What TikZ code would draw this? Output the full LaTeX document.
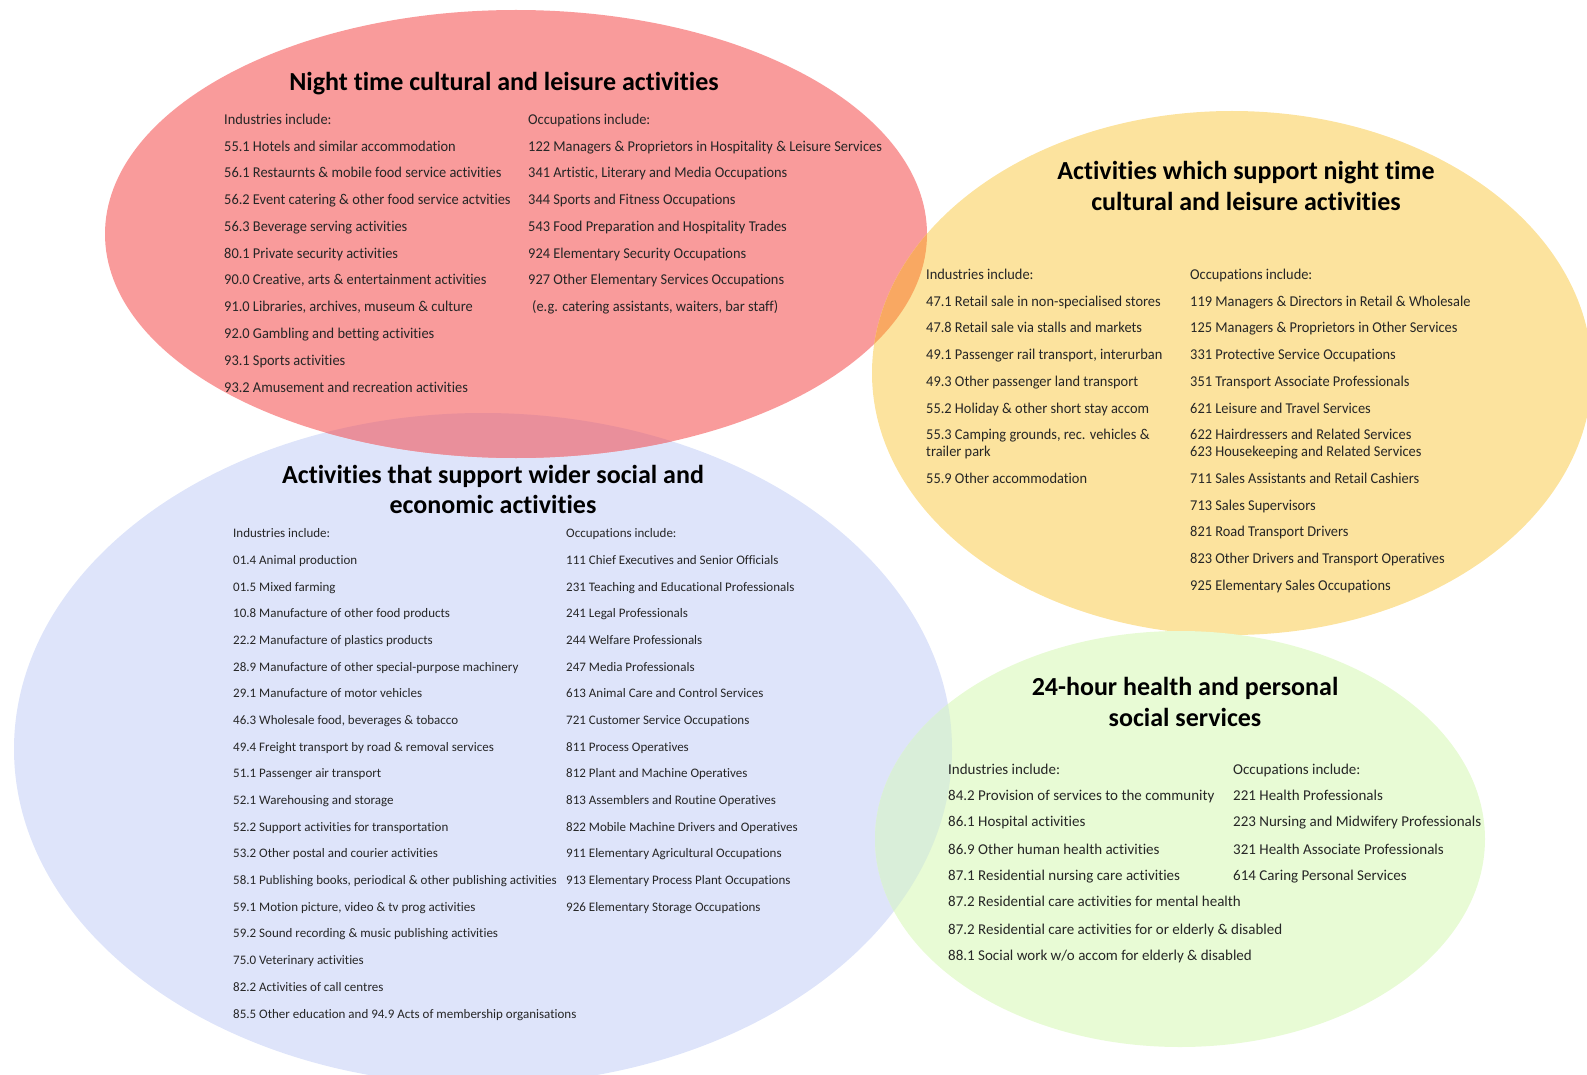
\documentclass[tikz,border=0pt]{standalone}
\usepackage{fontspec}
\setmainfont[Ligatures=CommonOff]{Carlito}
\newfontfamily\narrowfont[FakeStretch=0.96, Ligatures=CommonOff]{Carlito}
\newfontfamily\greenfont[Ligatures=CommonOff]{Carlito}
\usepackage{tikz}
\definecolor{nightred}{HTML}{F99B9B}
\definecolor{supportyellow}{HTML}{FCE39E}
\definecolor{widerblue}{HTML}{DEE4FA}
\definecolor{healthgreen}{HTML}{E8FBD5}
\definecolor{redyellow}{HTML}{F9A862}
\definecolor{redblue}{HTML}{E98F9B}
\definecolor{bluegreen}{HTML}{D9EED9}

\begin{document}
\begin{tikzpicture}[x=1pt, y=-1pt,
    ttl/.style={font=\fontsize{26}{31}\selectfont\bfseries, anchor=base, inner sep=0pt},
    txt/.style={font=\fontsize{15}{15}\narrowfont, anchor=base west, inner sep=0pt, text=black!85},
    gtxt/.style={font=\fontsize{15}{15}\greenfont, anchor=base west, inner sep=0pt, text=black!85},
    sml/.style={font=\fontsize{13}{13}\selectfont, anchor=base west, inner sep=0pt, text=black!85}]
    \useasboundingbox (0,0) rectangle (1587,1075);

    \coordinate (red) at (516,234);
    \coordinate (yellow) at (1232,373);
    \coordinate (blue) at (483,749);
    \coordinate (green) at (1180,839);

    % the four sets
    \fill[widerblue] (blue) ellipse [x radius=469pt, y radius=336pt];
    \fill[nightred] (red) ellipse [x radius=411pt, y radius=224pt];
    \fill[supportyellow] (yellow) ellipse [x radius=360pt, y radius=262pt];
    \fill[healthgreen] (green) ellipse [x radius=305pt, y radius=208pt];

    % overlaps
    \begin{scope}
      \clip (red) ellipse [x radius=411pt, y radius=224pt];
      \fill[redyellow] (yellow) ellipse [x radius=360pt, y radius=262pt];
      \fill[redblue] (blue) ellipse [x radius=469pt, y radius=336pt];
    \end{scope}
    \begin{scope}
      \clip (green) ellipse [x radius=305pt, y radius=208pt];
      \fill[bluegreen] (blue) ellipse [x radius=469pt, y radius=336pt];
    \end{scope}

    % night time
    \node[ttl] (r-title) at (504,90.5) {Night time cultural and leisure activities};
    \node[txt] (r-ind) at (224,124.4) {Industries include:};
    \node[txt] (r-i1) at (224,151.2) {55.1 Hotels and similar accommodation};
    \node[txt] (r-i2) at (224,177.9) {56.1 Restaurnts \& mobile food service activities};
    \node[txt] (r-i3) at (224,204.7) {56.2 Event catering \& other food service actvities};
    \node[txt] (r-i4) at (224,231.4) {56.3 Beverage serving activities};
    \node[txt] (r-i5) at (224,258.2) {80.1 Private security activities};
    \node[txt] (r-i6) at (224,285.0) {90.0 Creative, arts \& entertainment activities};
    \node[txt] (r-i7) at (224,311.7) {91.0 Libraries, archives, museum \& culture};
    \node[txt] (r-i8) at (224,338.5) {92.0 Gambling and betting activities};
    \node[txt] (r-i9) at (224,365.2) {93.1 Sports activities};
    \node[txt] (r-i10) at (224,392.0) {93.2 Amusement and recreation activities};
    \node[txt] (r-occ) at (528,124.4) {Occupations include:};
    \node[txt] (r-o1) at (528,151.2) {122 Managers \& Proprietors in Hospitality \& Leisure Services};
    \node[txt] (r-o2) at (528,177.9) {341 Artistic, Literary and Media Occupations};
    \node[txt] (r-o3) at (528,204.7) {344 Sports and Fitness Occupations};
    \node[txt] (r-o4) at (528,231.4) {543 Food Preparation and Hospitality Trades};
    \node[txt] (r-o5) at (528,258.2) {924 Elementary Security Occupations};
    \node[txt] (r-o6) at (528,285.0) {927 Other Elementary Services Occupations};
    \node[txt] (r-o7) at (532,311.7) {(e.g. catering assistants, waiters, bar staff)};

    % support night time
    \node[ttl] (y-title1) at (1246,179.5) {Activities which support night time};
    \node[ttl] (y-title2) at (1246,211) {cultural and leisure activities};
    \node[txt] (y-ind) at (926,279.3) {Industries include:};
    \node[txt] (y-i1) at (926,306.1) {47.1 Retail sale in non-specialised stores};
    \node[txt] (y-i2) at (926,332.8) {47.8 Retail sale via stalls and markets};
    \node[txt] (y-i3) at (926,359.6) {49.1 Passenger rail transport, interurban};
    \node[txt] (y-i4) at (926,386.3) {49.3 Other passenger land transport};
    \node[txt] (y-i5) at (926,413.1) {55.2 Holiday \& other short stay accom};
    \node[txt] (y-i6) at (926,439.9) {55.3 Camping grounds, rec. vehicles \&};
    \node[txt] (y-i6b) at (926,456.4) {trailer park};
    \node[txt] (y-i7) at (926,483.7) {55.9 Other accommodation};
    \node[txt] (y-occ) at (1190,279.3) {Occupations include:};
    \node[txt] (y-o1) at (1190,306.1) {119 Managers \& Directors in Retail \& Wholesale};
    \node[txt] (y-o2) at (1190,332.8) {125 Managers \& Proprietors in Other Services};
    \node[txt] (y-o3) at (1190,359.6) {331 Protective Service Occupations};
    \node[txt] (y-o4) at (1190,386.3) {351 Transport Associate Professionals};
    \node[txt] (y-o5) at (1190,413.1) {621 Leisure and Travel Services};
    \node[txt] (y-o6) at (1190,439.9) {622 Hairdressers and Related Services};
    \node[txt] (y-o7) at (1190,456.4) {623 Housekeeping and Related Services};
    \node[txt] (y-o8) at (1190,483.7) {711 Sales Assistants and Retail Cashiers};
    \node[txt] (y-o9) at (1190,510) {713 Sales Supervisors};
    \node[txt] (y-o10) at (1190,536.4) {821 Road Transport Drivers};
    \node[txt] (y-o11) at (1190,563.7) {823 Other Drivers and Transport Operatives};
    \node[txt] (y-o12) at (1190,590) {925 Elementary Sales Occupations};

    % wider social and economic
    \node[ttl] (b-title1) at (493,483) {Activities that support wider social and};
    \node[ttl] (b-title2) at (493,513.5) {economic activities};
    \node[sml] (b-ind) at (233,537.7) {Industries include:};
    \node[sml] (b-i1) at (233,564.4) {01.4 Animal production};
    \node[sml] (b-i2) at (233,591.1) {01.5 Mixed farming};
    \node[sml] (b-i3) at (233,617.7) {10.8 Manufacture of other food products};
    \node[sml] (b-i4) at (233,644.4) {22.2 Manufacture of plastics products};
    \node[sml] (b-i5) at (233,671.1) {28.9 Manufacture of other special-purpose machinery};
    \node[sml] (b-i6) at (233,697.8) {29.1 Manufacture of motor vehicles};
    \node[sml] (b-i7) at (233,724.5) {46.3 Wholesale food, beverages \& tobacco};
    \node[sml] (b-i8) at (233,751.1) {49.4 Freight transport by road \& removal services};
    \node[sml] (b-i9) at (233,777.8) {51.1 Passenger air transport};
    \node[sml] (b-i10) at (233,804.5) {52.1 Warehousing and storage};
    \node[sml] (b-i11) at (233,831.2) {52.2 Support activities for transportation};
    \node[sml] (b-i12) at (233,857.9) {53.2 Other postal and courier activities};
    \node[sml] (b-i13) at (233,884.5) {58.1 Publishing books, periodical \& other publishing activities};
    \node[sml] (b-i14) at (233,911.2) {59.1 Motion picture, video \& tv prog activities};
    \node[sml] (b-i15) at (233,937.9) {59.2 Sound recording \& music publishing activities};
    \node[sml] (b-i16) at (233,964.6) {75.0 Veterinary activities};
    \node[sml] (b-i17) at (233,991.3) {82.2 Activities of call centres};
    \node[sml] (b-i18) at (233,1018) {85.5 Other education and 94.9 Acts of membership organisations};
    \node[sml] (b-occ) at (566,537.7) {Occupations include:};
    \node[sml] (b-o1) at (566,564.4) {111 Chief Executives and Senior Officials};
    \node[sml] (b-o2) at (566,591.1) {231 Teaching and Educational Professionals};
    \node[sml] (b-o3) at (566,617.7) {241 Legal Professionals};
    \node[sml] (b-o4) at (566,644.4) {244 Welfare Professionals};
    \node[sml] (b-o5) at (566,671.1) {247 Media Professionals};
    \node[sml] (b-o6) at (566,697.8) {613 Animal Care and Control Services};
    \node[sml] (b-o7) at (566,724.5) {721 Customer Service Occupations};
    \node[sml] (b-o8) at (566,751.1) {811 Process Operatives};
    \node[sml] (b-o9) at (566,777.8) {812 Plant and Machine Operatives};
    \node[sml] (b-o10) at (566,804.5) {813 Assemblers and Routine Operatives};
    \node[sml] (b-o11) at (566,831.2) {822 Mobile Machine Drivers and Operatives};
    \node[sml] (b-o12) at (566,857.9) {911 Elementary Agricultural Occupations};
    \node[sml] (b-o13) at (566,884.5) {913 Elementary Process Plant Occupations};
    \node[sml] (b-o14) at (566,911.2) {926 Elementary Storage Occupations};

    % 24-hour health
    \node[ttl] (g-title1) at (1185,695.5) {24-hour health and personal};
    \node[ttl] (g-title2) at (1185,726) {social services};
    \node[gtxt] (g-ind) at (948,774.2) {Industries include:};
    \node[gtxt] (g-i1) at (948,800.5) {84.2 Provision of services to the community};
    \node[gtxt] (g-i2) at (948,826.8) {86.1 Hospital activities};
    \node[gtxt] (g-i3) at (948,854.2) {86.9 Other human health activities};
    \node[gtxt] (g-i4) at (948,880.5) {87.1 Residential nursing care activities};
    \node[gtxt] (g-i5) at (948,906.8) {87.2 Residential care activities for mental health};
    \node[gtxt] (g-i6) at (948,934.1) {87.2 Residential care activities for or elderly \& disabled};
    \node[gtxt] (g-i7) at (948,960.4) {88.1 Social work w/o accom for elderly \& disabled};
    \node[gtxt] (g-occ) at (1233,774.2) {Occupations include:};
    \node[gtxt] (g-o1) at (1233,800.5) {221 Health Professionals};
    \node[gtxt] (g-o2) at (1233,826.8) {223 Nursing and Midwifery Professionals};
    \node[gtxt] (g-o3) at (1233,854.2) {321 Health Associate Professionals};
    \node[gtxt] (g-o4) at (1233,880.5) {614 Caring Personal Services};
  \end{tikzpicture}
\end{document}
